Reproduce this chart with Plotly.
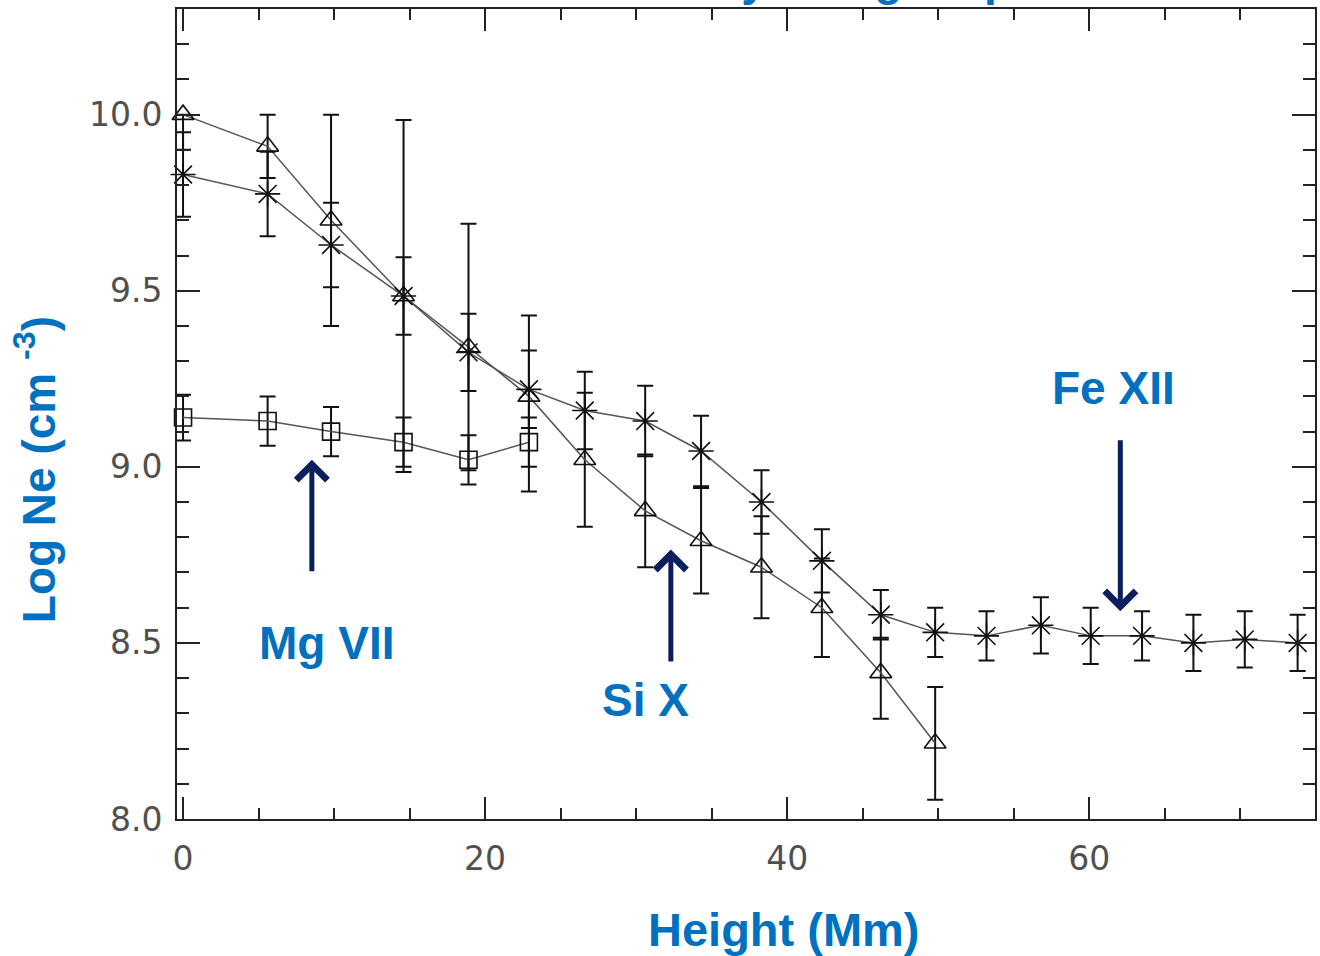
import plotly.graph_objects as go

# ---------------- data ----------------
height_fe = [0, 5.6, 9.8, 14.6, 18.9, 22.9, 26.6, 30.6, 34.3, 38.3, 42.3, 46.2,
             49.8, 53.2, 56.8, 60.1, 63.5, 66.9, 70.3, 73.8]
ne_fe = [9.83, 9.775, 9.63, 9.485, 9.325, 9.22, 9.16, 9.13, 9.045, 8.90, 8.733,
         8.58, 8.53, 8.52, 8.55, 8.52, 8.52, 8.50, 8.51, 8.50]
err_fe = [0.12, 0.12, 0.12, 0.11, 0.11, 0.11, 0.11, 0.10, 0.10, 0.09, 0.09,
          0.07, 0.07, 0.07, 0.08, 0.08, 0.07, 0.08, 0.08, 0.08]

height_si = [0, 5.6, 9.8, 14.6, 18.9, 22.9, 26.6, 30.6, 34.3, 38.3, 42.3, 46.2, 49.8]
ne_si = [10.0, 9.91, 9.70, 9.485, 9.34, 9.20, 9.02, 8.875, 8.79, 8.715, 8.60, 8.415, 8.215]
err_si_plus = [0.0, 0.09, 0.30, 0.50, 0.35, 0.23, 0.19, 0.16, 0.15, 0.145, 0.14, 0.10, 0.16]
err_si_minus = [0.1, 0.09, 0.30, 0.50, 0.35, 0.20, 0.19, 0.16, 0.15, 0.145, 0.14, 0.13, 0.16]

height_mg = [0, 5.6, 9.8, 14.6, 18.9, 22.9]
ne_mg = [9.14, 9.13, 9.10, 9.07, 9.02, 9.07]
err_mg_plus = [0.065, 0.07, 0.07, 0.07, 0.07, 0.07]
err_mg_minus = [0.065, 0.07, 0.07, 0.07, 0.07, 0.14]

x_ticks = [0, 20, 40, 60]
y_ticks = [8.0, 8.5, 9.0, 9.5, 10.0]

# ion labels: (text, x, y) and arrows: (x, tail_y, tip_y)
labels = [("Mg VII", 9.52, 8.50), ("Si X", 30.6, 8.338), ("Fe XII", 61.6, 9.224)]
arrows = [(8.53, 8.699, 9.02), (32.3, 8.443, 8.765), (62.06, 9.08, 8.59)]

BLUE = "#0070C0"
NAVY = "#0B1F5E"
LINE = "#555555"

fig = go.Figure()

def add_series(x, y, ep, em, symbol, size):
    fig.add_trace(go.Scatter(
        x=x, y=y, mode="lines+markers",
        line=dict(color=LINE, width=1.5),
        marker=dict(symbol=symbol, size=size, color="#111",
                    line=dict(color="#111", width=1.6)),
        error_y=dict(type="data", symmetric=False, array=ep, arrayminus=em,
                     color="#111", thickness=2, width=8),
        cliponaxis=False,
    ))

add_series(height_mg, ne_mg, err_mg_plus, err_mg_minus, "square-open", 17)
add_series(height_si, ne_si, err_si_plus, err_si_minus, "triangle-up-open", 19)
add_series(height_fe, ne_fe, err_fe, err_fe, "asterisk-open", 21)

annotations = []
for text, x, y in labels:
    annotations.append(dict(x=x, y=y, xref="x", yref="y", text=text, showarrow=False,
                            xanchor="center", yanchor="middle",
                            font=dict(family="Liberation Sans, Arial", size=46,
                                      color=BLUE, weight="bold")))
for x, y0, y1 in arrows:
    annotations.append(dict(x=x, y=y1, ax=x, ay=y0, xref="x", yref="y",
                            axref="x", ayref="y", text="", showarrow=True,
                            arrowhead=4, arrowsize=1.2, arrowwidth=5,
                            arrowcolor=NAVY, standoff=0))

# axis titles
annotations.append(dict(x=0.5333, y=-0.137, xref="paper", yref="paper",
                        text="Height (Mm)", showarrow=False, xanchor="center",
                        yanchor="middle",
                        font=dict(family="Liberation Sans, Arial", size=47,
                                  color=BLUE, weight="bold")))
annotations.append(dict(x=-0.1245, y=0.431, xref="paper", yref="paper",
                        text="Log Ne (cm <sup>-3</sup>)", showarrow=False,
                        textangle=-90, xanchor="center", yanchor="middle",
                        font=dict(family="Liberation Sans, Arial", size=46,
                                  color=BLUE, weight="bold")))
# title, mostly clipped above the top edge as in the reference
annotations.append(dict(x=0.469, y=1.002, xref="paper", yref="paper",
                        text="Electron density along loop", showarrow=False,
                        xanchor="center", yanchor="bottom",
                        font=dict(family="Liberation Sans, Arial", size=46,
                                  color=BLUE, weight="bold")))

axis_common = dict(showgrid=False, zeroline=False, showline=True, linecolor="#222",
                   linewidth=2, mirror="allticks", ticks="inside", tickcolor="#222",
                   tickwidth=1.5,
                   tickfont=dict(family="DejaVu Sans", size=33, color="#505050"))

fig.update_xaxes(range=[-0.4, 74.95], tickvals=x_ticks, ticklen=22,
                 minor=dict(dtick=5, ticklen=11, ticks="inside", tickcolor="#222",
                            tickwidth=1.5),
                 ticklabelstandoff=9, **axis_common)
fig.update_yaxes(range=[8.0, 10.30], tickvals=y_ticks, tickformat=".1f", ticklen=23,
                 minor=dict(dtick=0.1, ticklen=12, ticks="inside", tickcolor="#222",
                            tickwidth=1.5),
                 ticklabelstandoff=6, **axis_common)

fig.update_layout(width=1320, height=956, margin=dict(l=177, r=3, t=9, b=137),
                  plot_bgcolor="white", paper_bgcolor="white", showlegend=False,
                  annotations=annotations)

fig.write_html("out.html")
